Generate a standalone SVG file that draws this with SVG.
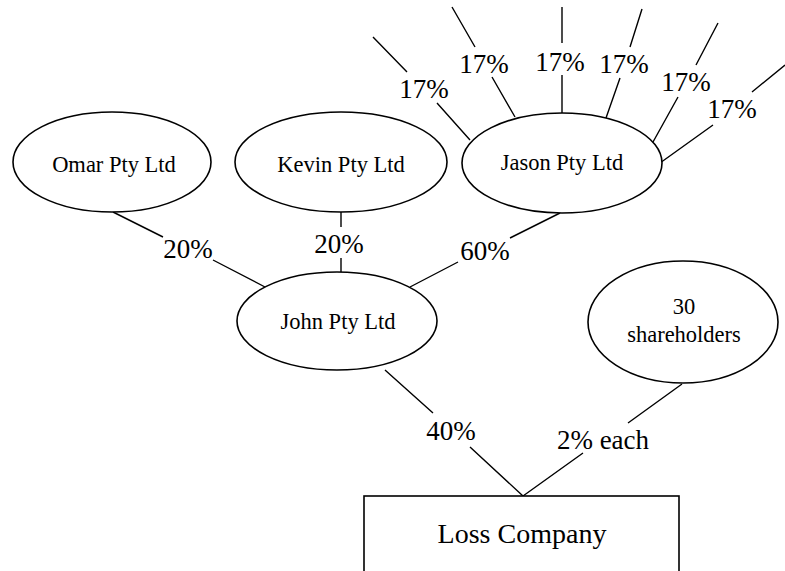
<svg xmlns="http://www.w3.org/2000/svg" width="785" height="571" viewBox="0 0 785 571">
  <style>
    .shape { fill: #fff; stroke: #000; stroke-width: 1.6; }
    .link { stroke: #000; stroke-width: 1.4; fill: none; }
    text { font-family: "Liberation Serif", "Times New Roman", serif; fill: #000; text-anchor: middle; }
    .name { font-size: 22.5px; }
    .big { font-size: 28px; }
    .pct { font-size: 27px; }
  </style>
  <rect width="785" height="571" fill="#fff"/>

  <!-- ownership lines, each broken where its percentage sits -->
  <g id="connectors">
    <!-- shareholders of Jason Pty Ltd -->
    <path class="link" d="M373,37 L407,72 M437,103 L470,140"/>
    <path class="link" d="M452,7 L475,47 M492,77 L515,117"/>
    <path class="link" d="M562,7 L562,43 M562,75 L562,114"/>
    <path class="link" d="M642,9 L630,47 M620,78 L606,118"/>
    <path class="link" d="M718,23 L696,65 M678,97 L653,142"/>
    <path class="link" d="M785,65 L752,92 M713,125 L660,163"/>
    <!-- into John Pty Ltd -->
    <path class="link" d="M113,212 L163,237 M213,260 L265,287"/>
    <path class="link" d="M341,212 L341,227 M341,258 L341,272"/>
    <path class="link" d="M560,213 L510,238 M458,262 L410,287"/>
    <!-- into Loss Company -->
    <path class="link" d="M385,370 L433,413 M470,447 L523,496"/>
    <path class="link" d="M682,384 L628,423 M583,453 L523,496"/>

    <text class="pct" x="424" y="98">17%</text>
    <text class="pct" x="484" y="73">17%</text>
    <text class="pct" x="560" y="71">17%</text>
    <text class="pct" x="624" y="73">17%</text>
    <text class="pct" x="686" y="91">17%</text>
    <text class="pct" x="732" y="118">17%</text>
    <text class="pct" x="188" y="258">20%</text>
    <text class="pct" x="339" y="253">20%</text>
    <text class="pct" x="485" y="260">60%</text>
    <text class="pct" x="451" y="440">40%</text>
    <text class="pct" x="603" y="449">2% each</text>
  </g>

  <g id="omar">
    <ellipse class="shape" cx="112" cy="162" rx="99" ry="50"/>
    <text class="name" x="114" y="172">Omar Pty Ltd</text>
  </g>
  <g id="kevin">
    <ellipse class="shape" cx="341" cy="162" rx="106" ry="50"/>
    <text class="name" x="341" y="172">Kevin Pty Ltd</text>
  </g>
  <g id="jason">
    <ellipse class="shape" cx="562" cy="163" rx="100" ry="50"/>
    <text class="name" x="562" y="170">Jason Pty Ltd</text>
  </g>
  <g id="john">
    <ellipse class="shape" cx="337" cy="321" rx="100" ry="49"/>
    <text class="name" x="338" y="329">John Pty Ltd</text>
  </g>
  <g id="shareholders">
    <ellipse class="shape" cx="683" cy="322" rx="95" ry="61"/>
    <text class="name" x="684" y="314">30</text>
    <text class="name" x="684" y="342">shareholders</text>
  </g>
  <g id="loss-company">
    <rect class="shape" x="364" y="496" width="315" height="90"/>
    <text class="big" x="522" y="543">Loss Company</text>
  </g>
</svg>
